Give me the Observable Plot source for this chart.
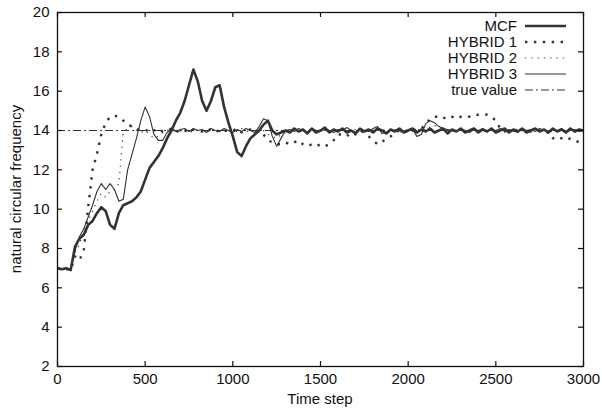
<!DOCTYPE html>
<html>
<head>
<meta charset="utf-8">
<script src="https://cdn.jsdelivr.net/npm/d3@7"></script>
<script src="https://cdn.jsdelivr.net/npm/@observablehq/plot@0.6"></script>
<style>
  html, body { margin: 0; padding: 0; background: #fff; }
  #wrap { position: relative; width: 602px; height: 411px; font-family: "Liberation Sans", Arial, sans-serif; }
  #overlay { position: absolute; left: 0; top: 0; pointer-events: none; }
</style>
</head>
<body>
<div id="wrap"></div>
<script>
// ---- data ----
const timeSteps = d3.range(0, 3001, 25); // 121 sampled time steps

const mcf = [
  7.0, 6.95, 7.0, 6.9, 8.1, 8.5, 8.7, 9.2, 9.4, 9.8,
  10.1, 9.9, 9.2, 9.0, 9.8, 10.2, 10.3, 10.4, 10.6, 10.9,
  11.5, 12.1, 12.4, 12.7, 13.1, 13.6, 14.0, 14.5, 14.9, 15.5,
  16.3, 17.1, 16.5, 15.5, 15.0, 15.5, 16.2, 16.3, 15.2, 14.4,
  13.7, 12.9, 12.7, 13.2, 13.6, 13.8, 14.0, 14.3, 14.5, 14.0,
  13.8, 13.9, 14.0, 13.9, 14.1, 13.95, 14.05, 13.85, 14.1, 13.9,
  14.0, 14.15, 13.9, 14.05, 13.95, 14.1, 13.9, 14.0, 13.85, 14.1,
  13.95, 14.05, 13.9, 14.1, 14.0, 13.85, 14.05, 13.95, 14.1, 13.9,
  14.0, 14.1, 13.9, 14.05, 13.95, 14.1, 13.9, 14.0, 14.1, 13.85,
  14.05, 13.95, 14.1, 13.9, 14.0, 14.1, 13.9, 14.05, 13.95, 14.1,
  13.9, 14.0, 14.1, 13.9, 14.05, 13.95, 14.1, 13.9, 14.0, 14.1,
  13.95, 14.05, 13.9, 14.1, 13.95, 14.05, 13.9, 14.1, 13.95, 14.05,
  14.0
];

const hybrid1 = [
  7.0, 7.0, 6.95, 6.9, 7.6, 7.4, 7.9, 10.1, 12.0, 12.8,
  13.8, 14.4, 14.7, 14.75, 14.7, 14.5, 14.4, 14.15, 14.1, 14.0,
  14.05, 13.9, 14.0, 14.1, 13.95, 14.0, 14.1, 13.9, 14.05, 14.0,
  13.9, 14.05, 14.0, 13.95, 14.1, 14.0, 13.9, 14.05, 14.0, 13.95,
  14.0, 14.1, 13.9, 14.0, 14.05, 13.9, 14.0, 13.8, 13.5, 13.4,
  13.3, 13.3, 13.4, 13.3, 13.4, 13.5, 13.3, 13.2, 13.3, 13.2,
  13.3, 13.2, 13.3, 13.5, 13.8, 13.8, 13.7, 13.9, 13.8, 14.0,
  13.9, 13.7, 13.5, 13.3, 13.4, 13.6, 13.7, 13.9, 14.0, 13.9,
  14.0, 14.05, 14.0, 14.1, 14.3, 14.6, 14.7, 14.7, 14.6, 14.75,
  14.7, 14.6, 14.7, 14.75, 14.7, 14.8, 14.8, 14.85, 14.8, 14.7,
  14.5, 14.1, 13.95, 14.05, 14.0, 13.9, 14.05, 14.0, 13.95, 14.05,
  14.0, 13.95, 13.9, 13.6, 13.7, 13.6, 13.5, 13.6, 13.5, 13.4,
  13.4
];

const hybrid2 = [
  7.0, 7.0, 6.95, 6.9, 7.8, 8.2, 8.9, 9.4, 9.9, 10.4,
  10.8, 10.6, 10.9, 11.0, 11.3, 13.9, 14.1, 14.2, 14.0, 13.9,
  14.0, 13.8, 13.6, 13.7, 13.9, 14.0, 14.1, 14.0, 13.95, 14.05,
  14.0, 13.9, 14.05, 14.0, 13.9, 14.1, 14.0, 13.95, 14.05, 13.9,
  14.0, 13.95, 14.1, 14.0, 13.9, 14.05, 13.9, 14.0, 13.8, 13.7,
  13.6, 13.8, 13.9, 14.0, 13.95, 14.05, 14.0, 13.9, 14.0, 14.05,
  13.95, 14.0, 14.1, 13.95, 14.0, 14.05, 13.9, 14.0, 14.05, 13.95,
  14.0, 14.05, 13.9, 14.0, 14.1, 13.95, 14.0, 14.05, 13.9, 14.0,
  14.05, 13.95, 14.0, 14.1, 14.0, 14.2, 14.25, 14.2, 14.1, 14.0,
  13.95, 14.05, 14.0, 13.9, 14.05, 14.0, 14.1, 13.95, 14.0, 14.05,
  13.9, 14.0, 14.05, 14.0, 13.95, 14.1, 14.0, 13.9, 14.05, 14.0,
  13.95, 14.0, 14.05, 13.9, 14.0, 14.05, 13.95, 14.0, 13.9, 14.0,
  14.0
];

const hybrid3 = [
  7.0, 6.95, 7.0, 6.9, 7.9, 8.6, 9.0, 9.6, 10.2, 10.9,
  11.3, 11.0, 11.3, 11.0, 10.4, 10.5, 12.0, 12.8, 13.6, 14.5,
  15.2, 14.7, 13.8, 13.5, 13.5, 13.9, 14.1, 13.95, 14.05, 14.1,
  13.95, 14.1, 14.0, 14.05, 13.9, 14.1, 14.0, 13.95, 14.1, 14.0,
  13.9, 14.05, 13.95, 14.1, 14.0, 13.9, 14.2, 14.6, 14.5, 13.7,
  13.2, 13.6, 14.0, 14.05, 13.95, 14.1, 14.0, 13.9, 14.1, 14.0,
  13.95, 14.1, 14.0, 13.9, 14.05, 14.0, 14.15, 14.0, 13.9, 14.05,
  14.0, 13.95, 14.1, 14.2, 13.85, 13.9, 14.05, 14.0, 14.1, 13.95,
  14.0, 14.05, 13.7, 13.8, 14.35, 14.5, 14.4, 14.2, 14.1, 14.05,
  14.0, 13.95, 14.1, 14.0, 13.9, 14.05, 14.0, 14.1, 13.95, 14.05,
  14.0, 14.1, 13.95, 14.05, 14.0, 13.9, 14.1, 14.0, 14.05, 13.95,
  14.1, 14.0, 13.95, 14.05, 14.0, 14.1, 13.95, 14.0, 14.05, 13.95,
  14.0
];

const trueValue = 14;
const xTicks = [0, 500, 1000, 1500, 2000, 2500, 3000];
const yTicks = [2, 4, 6, 8, 10, 12, 14, 16, 18, 20];
const seriesNames = ["MCF", "HYBRID 1", "HYBRID 2", "HYBRID 3", "true value"];

// ---- styles ----
const styles = {
  "MCF":        {stroke: "#333", strokeWidth: 2.6, strokeDasharray: null},
  "HYBRID 1":   {stroke: "#333", strokeWidth: 2.4, strokeDasharray: "2.4,6.5"},
  "HYBRID 2":   {stroke: "#444", strokeWidth: 1.2, strokeDasharray: "1.3,5"},
  "HYBRID 3":   {stroke: "#333", strokeWidth: 1.1, strokeDasharray: null},
  "true value": {stroke: "#333", strokeWidth: 1.0, strokeDasharray: "8,3,2,3"}
};

const toRows = (vals) => timeSteps.map((t, i) => ({t, v: vals[i]}));
const seriesData = {
  "MCF": toRows(mcf),
  "HYBRID 1": toRows(hybrid1),
  "HYBRID 2": toRows(hybrid2),
  "HYBRID 3": toRows(hybrid3)
};

const W = 602, H = 411;
const margin = {left: 57, right: 19, top: 12, bottom: 45};
const plotW = W - margin.left - margin.right;
const plotH = H - margin.top - margin.bottom;
const tickLen = 5;

const lineMark = (name) => Plot.line(seriesData[name], {
  x: "t", y: "v",
  stroke: styles[name].stroke,
  strokeWidth: styles[name].strokeWidth,
  strokeDasharray: styles[name].strokeDasharray,
  strokeLinejoin: "round",
  strokeLinecap: "butt"
});

const plain = (d) => String(d);

const chart = Plot.plot({
  width: W, height: H,
  marginLeft: margin.left, marginRight: margin.right,
  marginTop: margin.top, marginBottom: margin.bottom,
  style: {fontFamily: "'Liberation Sans', Arial, sans-serif", fontSize: "15px", color: "#111", background: "#fff"},
  x: {domain: [0, 3000]},
  y: {domain: [2, 20]},
  marks: [
    Plot.ruleY([trueValue], {
      stroke: styles["true value"].stroke,
      strokeWidth: styles["true value"].strokeWidth,
      strokeDasharray: styles["true value"].strokeDasharray
    }),
    lineMark("HYBRID 2"),
    lineMark("HYBRID 1"),
    lineMark("HYBRID 3"),
    lineMark("MCF"),
    // inward ticks on all four sides
    Plot.tickX(xTicks, {x: (d) => d, insetTop: plotH - tickLen, stroke: "#111", strokeWidth: 1.2}),
    Plot.tickX(xTicks, {x: (d) => d, insetBottom: plotH - tickLen, stroke: "#111", strokeWidth: 1.2}),
    Plot.tickY(yTicks, {y: (d) => d, insetRight: plotW - tickLen, stroke: "#111", strokeWidth: 1.2}),
    Plot.tickY(yTicks, {y: (d) => d, insetLeft: plotW - tickLen, stroke: "#111", strokeWidth: 1.2}),
    Plot.frame({stroke: "#111", strokeWidth: 1.3}),
    Plot.axisX(xTicks, {anchor: "bottom", tickSize: 0, tickPadding: 7, tickFormat: plain, label: null}),
    Plot.axisY(yTicks, {anchor: "left", tickSize: 0, tickPadding: 8, tickFormat: plain, label: null})
  ]
});

const wrap = document.getElementById("wrap");
wrap.appendChild(chart);

// ---- overlay: axis titles and legend ----
const ov = d3.select(wrap).append("svg")
  .attr("id", "overlay")
  .attr("width", W).attr("height", H)
  .attr("font-family", "'Liberation Sans', Arial, sans-serif")
  .attr("font-size", 15)
  .attr("fill", "#111");

ov.append("text")
  .attr("x", margin.left + plotW / 2)
  .attr("y", 404)
  .attr("text-anchor", "middle")
  .text("Time step");

ov.append("text")
  .attr("transform", `translate(21,${margin.top + plotH / 2}) rotate(-90)`)
  .attr("text-anchor", "middle")
  .text("natural circular frequency");

const legX = 517, legY0 = 26, legDy = 16, sampleX0 = 525, sampleX1 = 566;
seriesNames.forEach((name, i) => {
  const y = legY0 + i * legDy;
  ov.append("text")
    .attr("x", legX).attr("y", y + 5)
    .attr("text-anchor", "end")
    .text(name);
  const s = styles[name];
  ov.append("line")
    .attr("x1", sampleX0).attr("x2", sampleX1)
    .attr("y1", y).attr("y2", y)
    .attr("stroke", s.stroke)
    .attr("stroke-width", s.strokeWidth)
    .attr("stroke-dasharray", s.strokeDasharray);
});
</script>
</body>
</html>
